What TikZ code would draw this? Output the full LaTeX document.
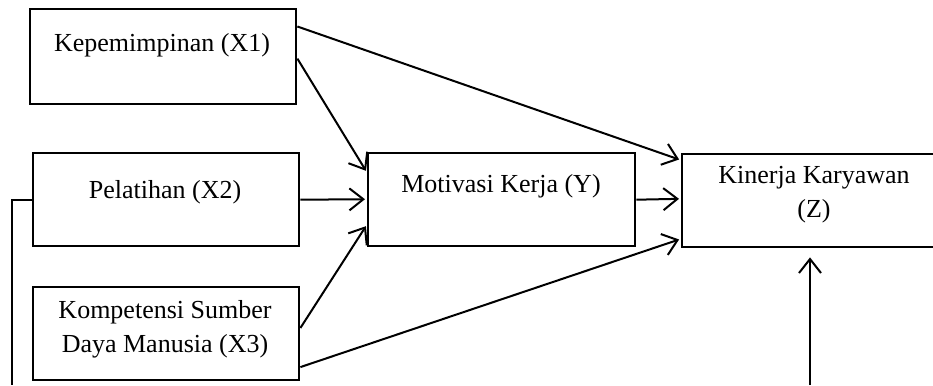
\documentclass[tikz,border=0pt]{standalone}
\usepackage{fontspec}
\setmainfont{Liberation Serif}
\usetikzlibrary{arrows.meta,calc}
\begin{document}
\begin{tikzpicture}[x=1pt,y=-1pt,
  box/.style={draw,line width=2.4pt,inner sep=0pt,anchor=north west},
  lbl/.style={inner sep=0pt,anchor=base,font=\fontsize{26}{34}\selectfont,align=center},
  arr/.style={line width=2pt,-{Straight Barb[length=14pt,width=22pt,line width=2pt]},shorten >=2pt}]
\useasboundingbox (0,0) rectangle (933,385);
\clip (0,0) rectangle (933,385);
% boxes
\node[box,minimum width=266pt,minimum height=95pt] (x1) at (29,8) {};
\node[box,minimum width=266pt,minimum height=93pt] (x2) at (32,152) {};
\node[box,minimum width=266pt,minimum height=93pt] (x3) at (32,286) {};
\node[box,minimum width=267pt,minimum height=93pt] (y) at (367,152) {};
\node[box,minimum width=266pt,minimum height=93pt] (z) at (681,153) {};
% labels
\node[lbl] (x1t) at (162,52) {Kepemimpinan (X1)};
\node[lbl] (x2t) at (165,198) {Pelatihan (X2)};
\node[lbl] (x3t) at (165,318) {Kompetensi Sumber};
\node[lbl] (x3u) at (165,352) {Daya Manusia (X3)};
\node[lbl] (yt) at (501,192) {Motivasi Kerja (Y)};
\node[lbl] (zt) at (814,183) {Kinerja Karyawan};
\node[lbl] (zu) at (814,217) {(Z)};
% helper coordinates
\coordinate (bot) at (810,385);
\coordinate (lbot) at (12,385);
% connectors
\draw[arr] ($(x1.north east)!0.19!(x1.south east)$) -- ($(z.north west)!0.075!(z.south west)$);
\draw[arr] ($(x1.north east)!0.52!(x1.south east)$) -- ($(y.north west)!0.215!(y.south west)$);
\draw[arr] ($(x2.north east)!0.5!(x2.south east)$) -- ($(y.north west)!0.495!(y.south west)$);
\draw[arr] ($(x3.north east)!0.44!(x3.south east)$) -- ($(y.north west)!0.76!(y.south west)$);
\draw[arr] ($(x3.north east)!0.85!(x3.south east)$) -- ($(z.north west)!0.90!(z.south west)$);
\draw[arr] (y.east) -- ($(z.north west)!0.48!(z.south west)$);
\draw[arr,line width=1.5pt,shorten >=9pt] (bot) -- (bot |- z.south);
\draw[line width=2pt] (x2.west) -- (x2.west -| lbot) -- (lbot);
\end{tikzpicture}
\end{document}
